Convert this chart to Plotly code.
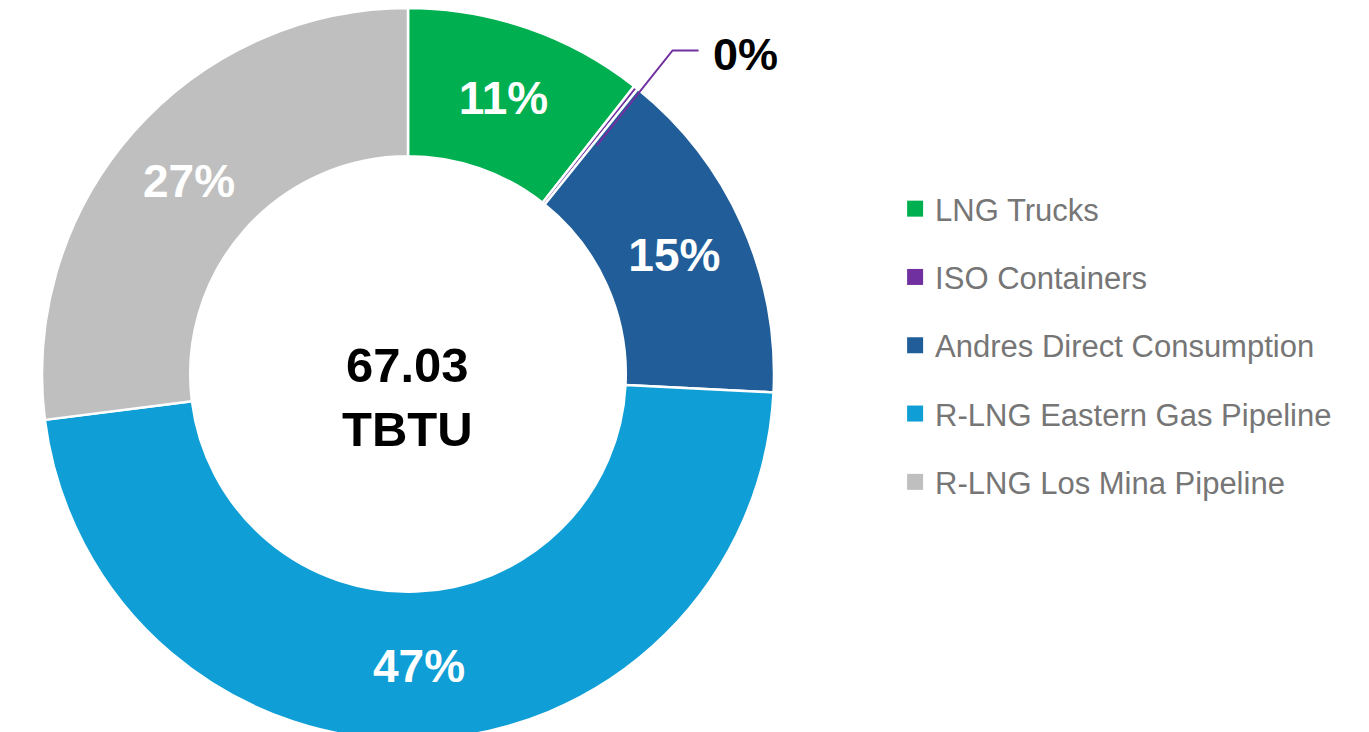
import math
import plotly.graph_objects as go

# ---- data ----
labels = ["LNG Trucks", "ISO Containers", "Andres Direct Consumption",
          "R-LNG Eastern Gas Pipeline", "R-LNG Los Mina Pipeline"]
shares = [10.6, 0.2, 15.0, 47.2, 27.0]          # percent of total
colors = ["#00B050", "#7030A0", "#215E99", "#0F9ED5", "#BFBFBF"]
total_value = "67.03"
total_unit = "TBTU"

# ---- geometry ----
W, H = 1369, 732
cx_px = 400
hole = 0.595
r_px = H / 2
cy_px = H / 2

fig = go.Figure()

textpos = ["inside" if s >= 1 else "none" for s in shares]
fig.add_trace(go.Pie(
    labels=labels, values=shares, sort=False, direction="clockwise", rotation=0,
    hole=hole,
    marker=dict(colors=colors, line=dict(color="white", width=2.5)),
    texttemplate="%{percent:.0%}", textposition=textpos,
    insidetextorientation="horizontal",
    textfont=dict(family="Liberation Sans", size=46, color="white", weight="bold"),
    domain=dict(x=[(cx_px - r_px) / W, (cx_px + r_px) / W], y=[0, 1]),
    showlegend=False,
))

# legend entries as dummy scatter traces (one group each for spacing)
for lab, col in zip(labels, colors):
    fig.add_trace(go.Scatter(
        x=[None], y=[None], mode="markers", name=lab, legendgroup=lab,
        marker=dict(symbol="square", size=16, color=col),
        showlegend=True,
    ))

# leader line + label for the tiny slice
cx_draw = cx_px + 7
small_idx = [i for i, s in enumerate(shares) if s < 1][0]
tot = sum(shares)
mid_frac = (sum(shares[:small_idx]) + shares[small_idx] / 2) / tot
ang = 2 * math.pi * mid_frac
r_start = r_px * (1 + hole) / 2
r_elbow = r_px * 1.13
x0, y0 = cx_draw + r_start * math.sin(ang), cy_px - r_start * math.cos(ang)
x1, y1 = cx_draw + r_elbow * math.sin(ang), cy_px - r_elbow * math.cos(ang)
x2 = x1 + 26

def px(x):
    return x / W

def py(y):
    return 1 - y / H

fig.add_shape(type="path", xref="paper", yref="paper",
              path=f"M {px(x0)} {py(y0)} L {px(x1)} {py(y1)} L {px(x2)} {py(y1)}",
              line=dict(color=colors[small_idx], width=2))
fig.add_annotation(x=px(x2 + 12), y=py(y1 + 4), xref="paper", yref="paper",
                   xanchor="left", yanchor="middle", showarrow=False,
                   text=f"{round(shares[small_idx] / tot * 100)}%",
                   font=dict(family="Liberation Sans", size=45, color="black", weight="bold"))

# centre text
fig.add_annotation(x=px(cx_draw - 8), y=py(cy_px + 23), xref="paper", yref="paper",
                   xanchor="center", yanchor="middle",
                   showarrow=False, text=f"{total_value}<br>{total_unit}",
                   font=dict(family="Liberation Sans", size=49, color="black", weight="bold"))

fig.update_layout(
    template="none",
    width=W, height=H,
    margin=dict(l=0, r=0, t=0, b=0),
    paper_bgcolor="white", plot_bgcolor="rgba(0,0,0,0)",
    xaxis=dict(visible=False), yaxis=dict(visible=False),
    legend=dict(x=0.648, y=py(174), xanchor="left", yanchor="top",
                font=dict(family="Liberation Sans", size=31, color="#767676"),
                tracegroupgap=25, traceorder="grouped",
                bgcolor="rgba(0,0,0,0)"),
    showlegend=True,
)

fig.write_html("out.html")
